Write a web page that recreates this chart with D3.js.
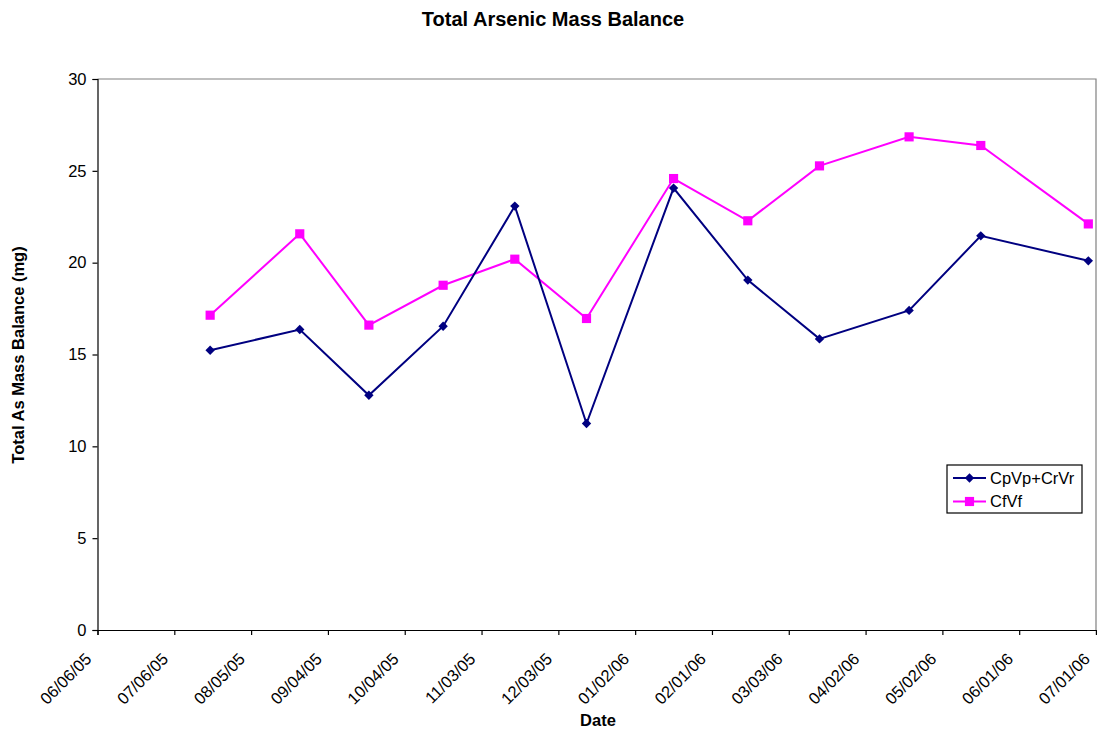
<!DOCTYPE html>
<html>
<head>
<meta charset="utf-8">
<script src="https://cdn.jsdelivr.net/npm/d3@7"></script>
<style>
	body { margin: 0; background: #fff; }
	svg { font-family: "Liberation Sans", Arial, sans-serif; }
</style>
</head>
<body>
<svg id="chart" width="1097" height="733"></svg>
<script>
	// sample dates and series
	let sampleDates = [ '07/20/05', '08/24/05', '09/20/05', '10/19/05', '11/16/05', '12/14/05',
			'01/17/06', '02/15/06', '03/15/06', '04/19/06', '05/17/06', '06/28/06' ],
		cpvpCrvr = [ 15.23, 16.36, 12.78, 16.54, 23.08, 11.24, 24.06, 19.05, 15.85, 17.40, 21.46, 20.10 ],
		cfvf = [ 17.14, 21.57, 16.60, 18.77, 20.19, 16.96, 24.58, 22.28, 25.27, 26.85, 26.38, 22.11 ],
		xTickLabels = [ '06/06/05', '07/06/05', '08/05/05', '09/04/05', '10/04/05', '11/03/05', '12/03/05',
			'01/02/06', '02/01/06', '03/03/06', '04/02/06', '05/02/06', '06/01/06', '07/01/06' ],
		yTicks = [ 0, 5, 10, 15, 20, 25, 30 ];

	let parse = d3.utcParse( '%m/%d/%y' ),
		fmt = d3.utcFormat( '%m/%d/%y' ),
		svg = d3.select( '#chart' ),
		m = { left: 97.5, right: 1096, top: 79, bottom: 630 };

	let x = d3.scaleUtc()
			.domain( [ parse( xTickLabels[ 0 ] ), parse( xTickLabels[ xTickLabels.length - 1 ] ) ] )
			.range( [ m.left, m.right ] ),
		y = d3.scaleLinear().domain( [ 0, 30 ] ).range( [ m.bottom, m.top ] );

	// diamond marker (square turned 45deg)
	let diamond = {
		draw: function( ctx, size ) {
			let r = Math.sqrt( size ) / 2;
			ctx.moveTo( 0, -r ); ctx.lineTo( r, 0 ); ctx.lineTo( 0, r ); ctx.lineTo( -r, 0 ); ctx.closePath();
		}
	};

	// frame: grey top / right
	svg.append( 'path' )
		.attr( 'd', 'M' + m.left + ',' + m.top + 'H' + m.right + 'V' + m.bottom )
		.style( 'fill', 'none' ).style( 'stroke', '#808080' ).style( 'stroke-width', 1.2 );

	// axes
	let xAxis = d3.axisBottom( x )
		.tickValues( xTickLabels.map( parse ) )
		.tickFormat( fmt )
		.tickSize( 5 );

	let gx = svg.append( 'g' )
		.attr( 'transform', 'translate(0,' + m.bottom + ')' )
		.call( xAxis );
	gx.selectAll( 'text' )
		.style( 'font-size', '16.5px' ).style( 'fill', '#000' )
		.attr( 'text-anchor', 'end' )
		.attr( 'x', 0 ).attr( 'y', 0 ).attr( 'dy', 0 )
		.attr( 'transform', 'translate(-5.5,30) rotate(-45)' );

	let gy = svg.append( 'g' )
		.attr( 'transform', 'translate(' + m.left + ',0)' )
		.call( d3.axisLeft( y ).tickValues( yTicks ).tickSize( 5 ).tickPadding( 6 ) );
	gy.selectAll( 'text' ).style( 'font-size', '16.5px' ).style( 'fill', '#000' );

	svg.selectAll( '.domain, .tick line' ).style( 'stroke', '#000' ).style( 'stroke-width', 1.2 );

	// series
	let series = [
		{ name: 'CpVp+CrVr', values: cpvpCrvr, color: '#000080', symbol: diamond, size: 88 },
		{ name: 'CfVf', values: cfvf, color: '#FF00FF', symbol: d3.symbolSquare, size: 84 }
	];

	let line = d3.line()
		.x( ( d, i ) => x( parse( sampleDates[ i ] ) ) )
		.y( d => y( d ) );

	series.slice().reverse().forEach( s => {
		let g = svg.append( 'g' );
		g.append( 'path' )
			.attr( 'd', line( s.values ) )
			.style( 'fill', 'none' ).style( 'stroke', s.color ).style( 'stroke-width', 2 );
		g.selectAll( 'path.mark' ).data( s.values )
			.enter().append( 'path' )
			.attr( 'class', 'mark' )
			.attr( 'd', d3.symbol().type( s.symbol ).size( s.size ) )
			.attr( 'transform', ( d, i ) => 'translate(' + x( parse( sampleDates[ i ] ) ) + ',' + y( d ) + ')' )
			.style( 'fill', s.color );
	} );

	// legend
	let legend = svg.append( 'g' ).attr( 'transform', 'translate(947,465)' );
	legend.append( 'rect' )
		.attr( 'width', 135 ).attr( 'height', 48 )
		.style( 'fill', '#fff' ).style( 'stroke', '#000' ).style( 'stroke-width', 1.2 );
	series.forEach( ( s, i ) => {
		let row = legend.append( 'g' ).attr( 'transform', 'translate(0,' + ( 13 + i * 23.5 ) + ')' );
		row.append( 'line' ).attr( 'x1', 6 ).attr( 'x2', 39 )
			.style( 'stroke', s.color ).style( 'stroke-width', 2 );
		row.append( 'path' )
			.attr( 'd', d3.symbol().type( s.symbol ).size( s.size ) )
			.attr( 'transform', 'translate(22.5,0)' )
			.style( 'fill', s.color );
		row.append( 'text' ).attr( 'x', 43 ).attr( 'dy', '0.36em' )
			.style( 'font-size', '16.5px' ).text( s.name );
	} );

	// titles
	svg.append( 'text' )
		.attr( 'x', 553 ).attr( 'y', 26 )
		.attr( 'text-anchor', 'middle' )
		.style( 'font-size', '20px' ).style( 'font-weight', 'bold' )
		.text( 'Total Arsenic Mass Balance' );

	svg.append( 'text' )
		.attr( 'x', 598 ).attr( 'y', 726 )
		.attr( 'text-anchor', 'middle' )
		.style( 'font-size', '16.5px' ).style( 'font-weight', 'bold' )
		.text( 'Date' );

	svg.append( 'text' )
		.attr( 'transform', 'translate(24,355) rotate(-90)' )
		.attr( 'text-anchor', 'middle' )
		.style( 'font-size', '16.5px' ).style( 'font-weight', 'bold' )
		.text( 'Total As Mass Balance (mg)' );
</script>
</body>
</html>
